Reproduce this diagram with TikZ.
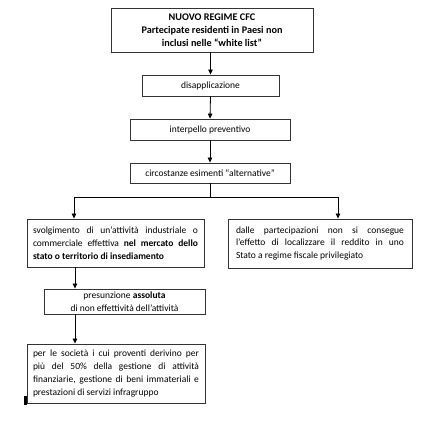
\documentclass[tikz,border=0pt]{standalone}
\usepackage{fontspec}
\setmainfont{Carlito}
\usetikzlibrary{arrows.meta}
\begin{document}
\begin{tikzpicture}[x=1pt,y=-1pt,
  box/.style={draw=black!80, line width=0.9pt, rectangle, inner sep=0pt, align=center, font=\fontsize{9.5}{12.8}\selectfont},
  para/.style={box, text width=#1, align=justify},
  arr/.style={-{Triangle[length=5pt,width=4.5pt]}, line width=0.8pt, black},
  link/.style={line width=0.8pt, black}]
\useasboundingbox (0,0) rectangle (430,421);
\node[box, minimum width=202pt, minimum height=44pt, font=\fontsize{10.2}{13}\selectfont] (top) at (212,30)
  {\textbf{NUOVO REGIME CFC}\\\textbf{Partecipate residenti in Paesi non}\\\textbf{inclusi nelle “white list”}};
\node[box, minimum width=137pt, minimum height=21pt] (dis) at (210.5,85.5) {disapplicazione};
\node[box, minimum width=160pt, minimum height=21pt] (int) at (210,129.5) {interpello preventivo};
\node[box, minimum width=160pt, minimum height=20pt] (circ) at (210,173) {circostanze esimenti “alternative”};
\node[para=165pt, minimum width=177pt, minimum height=48pt] (left) at (115.5,243)
  {svolgimento di un’attività industriale o\linebreak commerciale effettiva \textbf{nel mercato dello}\linebreak \textbf{stato o territorio di insediamento}};
\node[para=168pt, minimum width=184pt, minimum height=49pt] (right) at (320,243.5)
  {dalle partecipazioni non si consegue\linebreak l’effetto di localizzare il reddito in uno\linebreak Stato a regime fiscale privilegiato};
\node[box, minimum width=161pt, minimum height=25pt] (pres) at (124.5,301.5)
  {presunzione \textbf{assoluta}\\di non effettività dell’attività};
\node[para=166pt, minimum width=178pt, minimum height=59pt] (third) at (116,373.5)
  {per le società i cui proventi derivino per\linebreak più del 50\% della gestione di attività\linebreak finanziarie, gestione di beni immateriali e\linebreak prestazioni di servizi infragruppo};
\draw[arr] (top.south -| dis.north) -- (dis.north);
\draw[arr] (dis.south) -- (int.north);
\draw[arr] (int.south) -- (circ.north);
\coordinate (j) at (210,197);
\coordinate (jl) at (74,197);
\coordinate (jr) at (338,197);
\coordinate (cl) at (75,0);
\draw[link] (circ.south) -- (j);
\draw[link] (jl) -- (jr);
\draw[arr] (jl) -- (jl |- left.north);
\draw[arr] (jr) -- (jr |- right.north);
\draw[arr] (cl |- left.south) -- (cl |- pres.north);
\draw[arr] (cl |- pres.south) -- (cl |- third.north);
\draw[line width=2.5pt] (25.5,396) -- (25.5,405);
\end{tikzpicture}
\end{document}
